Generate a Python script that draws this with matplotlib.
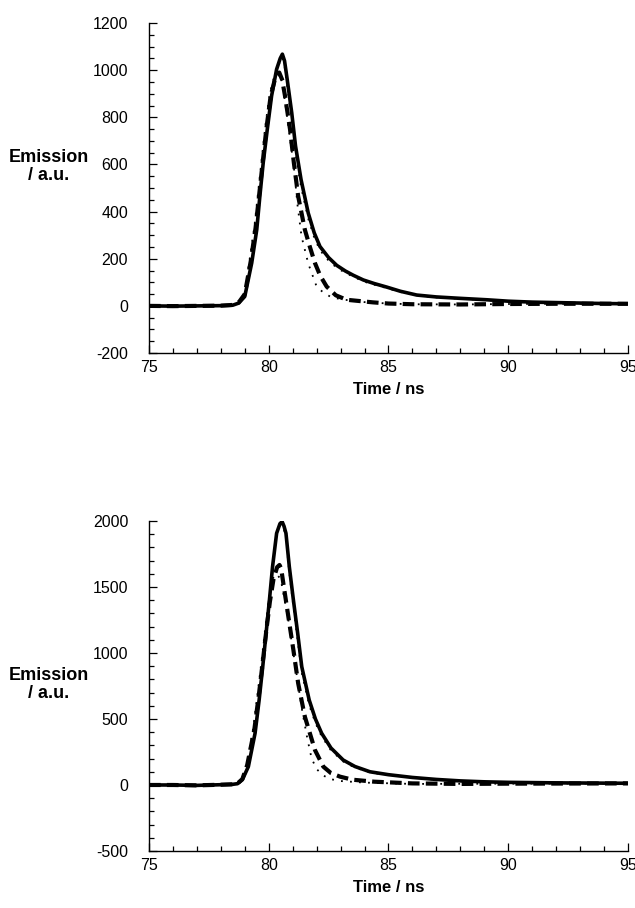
import matplotlib.pyplot as plt
from matplotlib.ticker import MultipleLocator

plt.rcParams['font.family'] = ['Liberation Sans', 'DejaVu Sans']
plt.rcParams['axes.unicode_minus'] = False

# --- top panel data (time / ns, emission / a.u.) ---
t_top_solid = [75, 76, 77, 78, 78.5, 78.75, 79.0, 79.29, 79.5, 79.63, 79.77, 79.94, 80.12,
               80.33, 80.48, 80.57, 80.66, 80.77, 80.96, 81.12, 81.35, 81.65, 81.9, 82.14,
               82.5, 82.84, 83.2, 83.53, 83.95, 84.4, 84.92, 85.5, 86.18, 87, 88, 89.1,
               90, 91, 92, 93, 94, 95]
y_top_solid = [0, -1, 0, 1, 3, 12, 40, 182, 323, 465, 607, 749, 891,
               1004, 1050, 1068, 1040, 962, 820, 678, 536, 394, 310, 252,
               205, 172, 148, 130, 110, 95, 80, 62, 46, 38, 32, 26,
               20, 16, 14, 12, 10, 9]
y_top_solid_dot = [0, -1, 0, 1, 3, 12, 40, 182, 323, 465, 607, 749, 891,
                   1000, 1040, 1055, 1020, 935, 790, 645, 505, 370, 290, 236,
                   192, 162, 140, 124, 104, 90, 76, 59, 44, 36, 30, 24,
                   19, 15, 13, 11, 10, 9]

t_top_dash = [75, 76, 77, 78, 78.5, 78.75, 79.0, 79.25, 79.45, 79.6, 79.75, 79.9, 80.08,
              80.28, 80.44, 80.56, 80.68, 80.89, 81.05, 81.23, 81.51, 81.72, 81.93, 82.15,
              82.42, 82.8, 83.25, 84.35, 85, 86, 88, 90, 92, 95]
y_top_dash = [0, -1, 0, 1, 4, 15, 50, 190, 330, 470, 610, 750, 890,
              970, 990, 960, 891, 749, 607, 465, 323, 250, 182, 128,
              82, 45, 26, 15, 10, 7, 6, 8, 9, 9]

t_top_dot = [75, 76, 77, 78, 78.5, 78.75, 79.0, 79.2, 79.4, 79.55, 79.7, 79.85, 80.03,
             80.23, 80.4, 80.52, 80.65, 80.85, 81.05, 81.2, 81.37, 81.65, 82.0, 82.3,
             82.56, 83, 84, 85, 86, 88, 90, 92, 95]
y_top_dot = [0, -1, 0, 1, 4, 16, 55, 195, 335, 475, 615, 755, 895,
             975, 992, 965, 890, 740, 590, 430, 295, 180, 82, 55,
             40, 28, 16, 10, 7, 6, 8, 9, 9]

# --- bottom panel data ---
t_bot_solid = [75, 76, 77, 78, 78.5, 78.7, 78.9, 79.15, 79.43, 79.6, 79.75, 79.89, 80.03,
               80.16, 80.33, 80.47, 80.56, 80.64, 80.72, 80.86, 81.03, 81.21, 81.38, 81.69,
               81.95, 82.21, 82.6, 83.11, 83.6, 84.23, 85, 86, 87, 88, 89, 90, 92, 95]
y_bot_solid = [0, 0, -3, 2, 5, 10, 40, 139, 392, 644, 896, 1149, 1402,
               1654, 1907, 1980, 1995, 1960, 1907, 1654, 1402, 1149, 896, 644,
               500, 392, 280, 189, 140, 100, 78, 57, 42, 31, 24, 20, 16, 13]
y_bot_solid_dot = [0, 0, -3, 2, 5, 10, 40, 139, 392, 644, 896, 1149, 1402,
                   1654, 1900, 1965, 1975, 1935, 1870, 1610, 1350, 1095, 850, 605,
                   470, 368, 262, 178, 132, 95, 74, 54, 40, 30, 23, 19, 15, 12]

t_bot_dash = [75, 76, 77, 78, 78.5, 78.7, 78.9, 79.1, 79.4, 79.6, 79.75, 79.9, 80.05,
              80.2, 80.35, 80.45, 80.52, 80.61, 80.82, 81.03, 81.23, 81.51, 81.93, 82.28,
              82.6, 82.98, 83.5, 84.4, 86, 88, 90, 95]
y_bot_dash = [0, 0, -3, 2, 5, 12, 45, 150, 420, 700, 930, 1170, 1390,
              1560, 1650, 1667, 1640, 1528, 1275, 1023, 770, 517, 265, 139,
              90, 63, 40, 25, 12, 8, 10, 12]

t_bot_dot = [75, 76, 77, 78, 78.5, 78.7, 78.9, 79.1, 79.35, 79.55, 79.7, 79.85, 80.0,
             80.2, 80.32, 80.5, 80.82, 81.03, 81.23, 81.4, 81.61, 81.79, 82.0, 82.3,
             82.56, 83, 84, 86, 90, 95]
y_bot_dot = [0, 0, -3, 2, 5, 14, 50, 160, 430, 710, 940, 1180, 1400,
             1578, 1600, 1560, 1250, 1000, 760, 560, 354, 202, 120, 70,
             45, 30, 18, 8, 10, 12]


def panel(ax, ts, ys_solid, ys_solid_dot, td, yd, tdot, ydot, ylim, major, minor, lab_y):
    ax.plot(ts, ys_solid, color='black', lw=2.6, solid_joinstyle='round')
    ax.plot(ts, ys_solid_dot, color='black', lw=1.3, linestyle=(0, (1, 4)))
    ax.plot(td, yd, color='black', lw=3.0, linestyle=(0, (2.8, 1.5)))
    ax.plot(tdot, ydot, color='black', lw=1.3, linestyle=(0, (1, 4)))

    ax.set_xlim(75, 95)
    ax.set_ylim(*ylim)
    ax.xaxis.set_major_locator(MultipleLocator(5))
    ax.xaxis.set_minor_locator(MultipleLocator(1))
    ax.yaxis.set_major_locator(MultipleLocator(major))
    ax.yaxis.set_minor_locator(MultipleLocator(minor))

    for s in ['top', 'right']:
        ax.spines[s].set_visible(False)
    for s in ['left', 'bottom']:
        ax.spines[s].set_linewidth(1.0)

    ax.tick_params(axis='both', which='both', direction='in', width=0.9, labelsize=11.5)
    ax.tick_params(axis='both', which='major', length=6)
    ax.tick_params(axis='both', which='minor', length=3.5)
    ax.tick_params(axis='y', which='major', pad=15)
    ax.tick_params(axis='x', which='major', pad=5)

    ax.set_xlabel('Time / ns', fontsize=12, fontweight='bold', labelpad=5)
    ax.text(-0.21, lab_y, 'Emission\n/ a.u.', transform=ax.transAxes, ha='center', va='center',
            fontsize=13, fontweight='bold', linespacing=1.1)


fig = plt.figure(figsize=(6.35, 9.08), dpi=100)
ax1 = fig.add_axes([0.2346, 0.6112, 0.7543, 0.3634])
ax2 = fig.add_axes([0.2346, 0.0628, 0.7543, 0.3634])

panel(ax1, t_top_solid, y_top_solid, y_top_solid_dot, t_top_dash, y_top_dash,
      t_top_dot, y_top_dot, (-200, 1200), 200, 50, 0.565)
panel(ax2, t_bot_solid, y_bot_solid, y_bot_solid_dot, t_bot_dash, y_bot_dash,
      t_bot_dot, y_bot_dot, (-500, 2000), 500, 100, 0.505)

fig.savefig('out.png', dpi=100)
